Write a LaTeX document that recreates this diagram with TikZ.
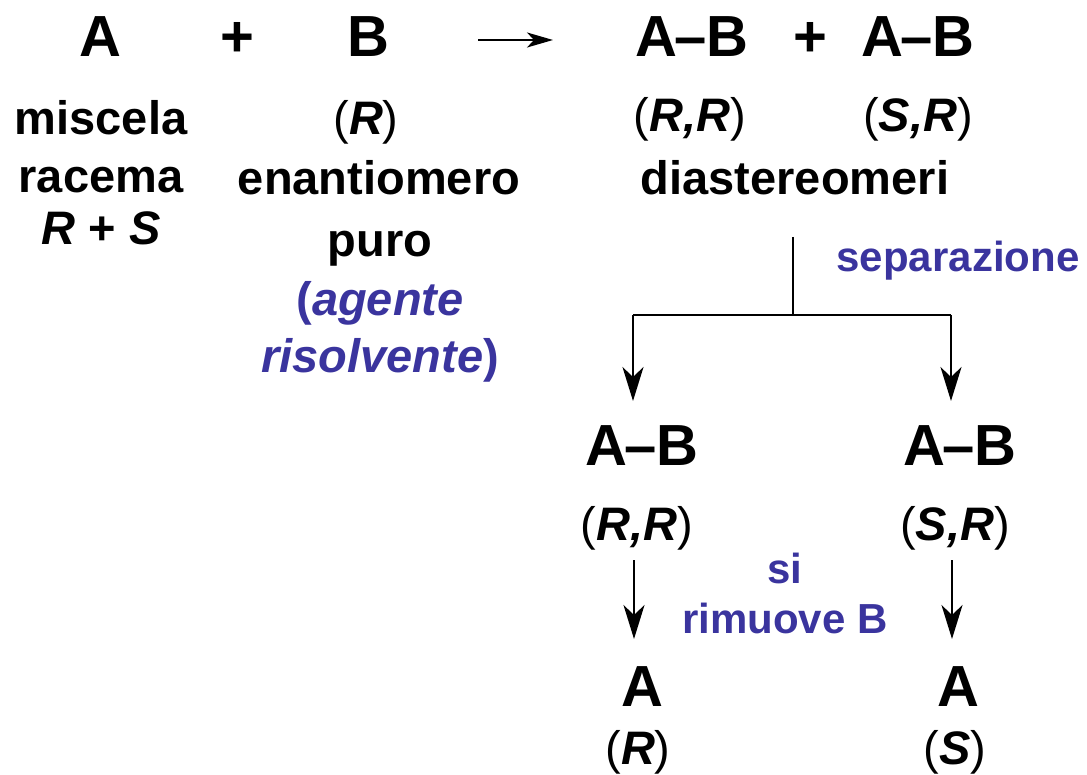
\documentclass[tikz,border=0pt]{standalone}
\usepackage{fontspec}
\setmainfont{Liberation Sans}
\usetikzlibrary{arrows.meta}
\definecolor{viola}{RGB}{58,52,158}
\newcommand{\txtbig}{\fontsize{58}{64}\selectfont\bfseries}
\newcommand{\txtbody}{\fontsize{47}{55}\selectfont\bfseries}
\newcommand{\txtblue}{\fontsize{42}{50}\selectfont\bfseries}
\newcommand{\cfg}[1]{{\mdseries(}\textit{#1}{\mdseries)}}
\tikzset{
  big/.style={anchor=base, inner sep=0pt, font=\txtbig},
  body/.style={anchor=base, inner sep=0pt, font=\txtbody},
  note/.style={anchor=base, inner sep=0pt, font=\txtblue, text=viola},
  line/.style={line width=2.2pt},
  arr/.style={line width=2.2pt, -{Stealth[length=34pt,width=21pt,inset=10pt]}},
}
\begin{document}
\begin{tikzpicture}[x=1pt,y=-1pt]
\useasboundingbox (0,0) rectangle (1087,775);
% reaction
\node[big] (A) at (100,57) {A};
\node[big] (plus1) at (237,57) {+};
\node[big] (B) at (368,57) {B};
\node[big] (AB1) at (692,57) {A\kern-0.05em–B};
\node[big] (plus2) at (810,57) {+};
\node[big] (AB2) at (918,57) {A\kern-0.05em–B};
\coordinate (r1) at (478,40);
\coordinate (r2) at (553,40);
\draw[line width=2.2pt, -{Stealth[length=26pt,width=15pt,inset=7pt]}] (r1) -- (r2);
% labels under reagents
\node[body] (mis) at (101,135) {miscela};
\node[body] (rac) at (101,193) {racema};
\node[body] (RS) at (101,245) {\textit{R} + \textit{S}};
\node[body] (Bconf) at (366,135) {\cfg{R}};
\node[body] (enan) at (379,195) {enantiomero};
\node[body] (puro) at (380,257) {puro};
\node[body, text=viola] (ag) at (380,316) {(\textit{agente}};
\node[body, text=viola] (ris) at (380,373) {\textit{risolvente})};
% labels under products
\node[body] (RR1) at (690,132) {\cfg{R,R}};
\node[body] (SR1) at (918,132) {\cfg{S,R}};
\node[body] (dia) at (795,195) {diastereomeri};
% separation
\node[note] (sep) at (958,272) {separazione};
\coordinate (sepTop) at (793,237);
\coordinate (split) at (793,315);
\coordinate (brL) at (633,315);
\coordinate (brR) at (951,315);
\coordinate (tipL) at (633,401);
\coordinate (tipR) at (951,401);
\draw[line] (sepTop) -- (split);
\draw[line] (brL) -- (brR);
\draw[arr] (brL) -- (tipL);
\draw[arr] (brR) -- (tipR);
\node[big] (ABL) at (642,465) {A\kern-0.05em–B};
\node[big] (ABR) at (960,465) {A\kern-0.05em–B};
\node[body] (RRL) at (637,540) {\cfg{R,R}};
\node[body] (SRR) at (955,540) {\cfg{S,R}};
% removal of B
\node[note] (si) at (785,583) {si};
\node[note] (rim) at (785,633) {rimuove B};
\coordinate (dL1) at (634,560);
\coordinate (dL2) at (634,639);
\coordinate (dR1) at (952,560);
\coordinate (dR2) at (952,639);
\draw[arr] (dL1) -- (dL2);
\draw[arr] (dR1) -- (dR2);
\node[big] (AL) at (642,706) {A};
\node[big] (AR) at (958,706) {A};
\node[body] (RL) at (638,764) {\cfg{R}};
\node[body] (SL) at (955,764) {\cfg{S}};
\end{tikzpicture}
\end{document}
